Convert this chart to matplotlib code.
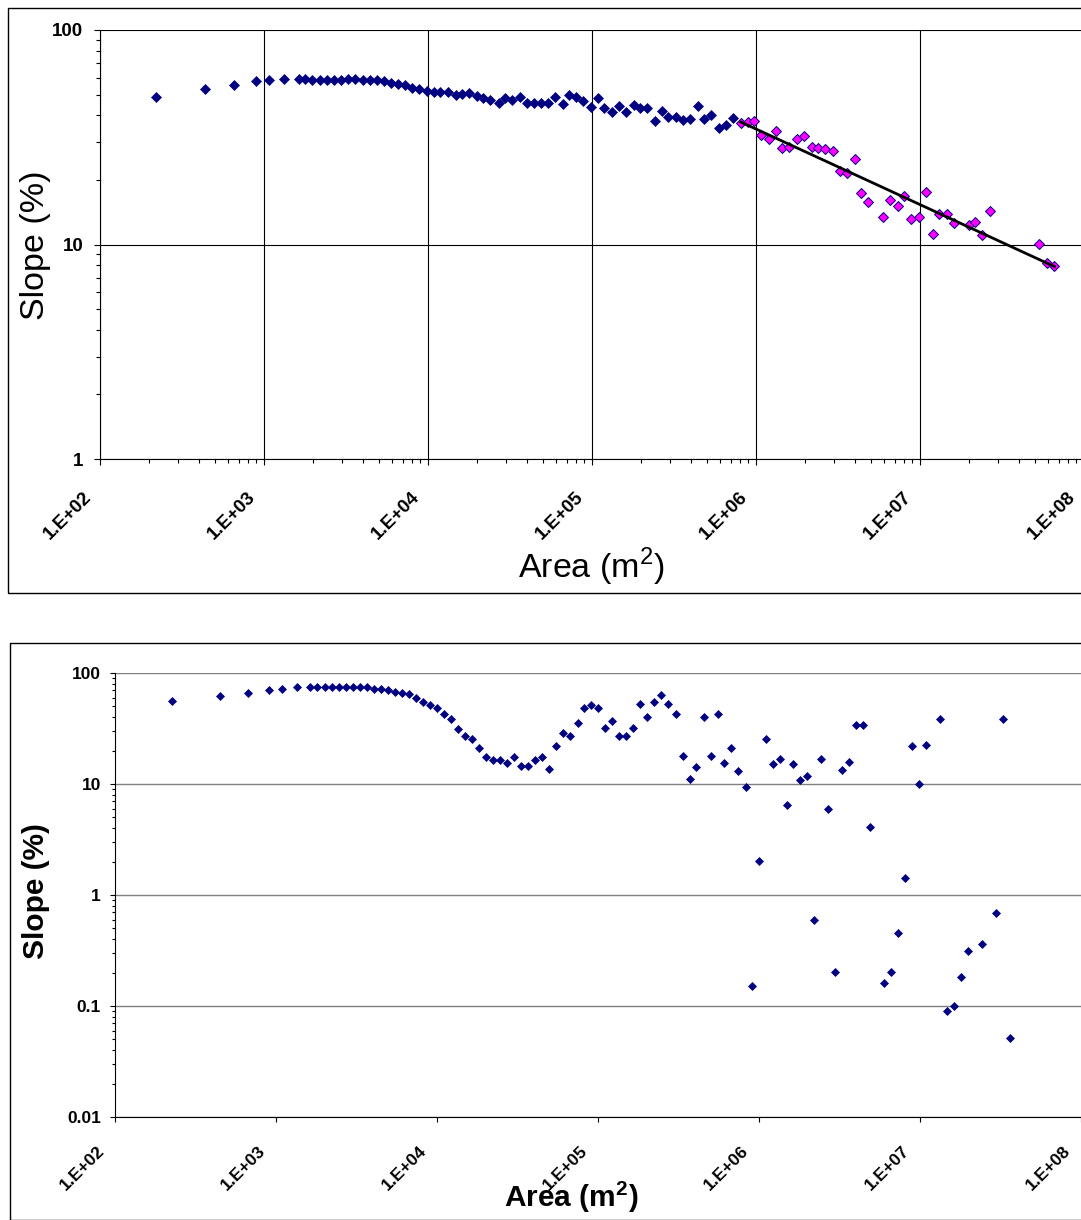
import numpy as np
import matplotlib.pyplot as plt
from matplotlib.ticker import FuncFormatter, LogLocator, NullFormatter
from matplotlib.patches import Rectangle
from matplotlib.transforms import ScaledTranslation

plt.rcParams['font.family'] = ['Liberation Sans', 'DejaVu Sans']
plt.rcParams['mathtext.fontset'] = 'custom'
plt.rcParams['mathtext.rm'] = 'Liberation Sans'
plt.rcParams['mathtext.bf'] = 'Liberation Sans:bold'

# top chart: blue series
top_area = [219, 437, 659, 894, 1077, 1319, 1628, 1786, 1970, 2196,
            2432, 2673, 2960, 3266, 3603, 4015, 4412, 4866, 5414, 5949,
            6563, 7209, 8025, 8851, 9822, 10834, 11886, 13190, 14756, 16125,
            17783, 19815, 21737, 23985, 26987, 29600, 32530, 36240, 39980, 44110,
            48870, 53920, 59490, 66270, 72700, 79880, 88120, 98600, 108800, 118900,
            133000, 146700, 161200, 179400, 197000, 217400, 243200, 266900, 291900, 326600,
            358400, 395900, 441000, 484000, 533300, 594800, 653600, 720000]
top_slope = [48.6, 52.9, 55.2, 57.8, 58.5, 59.3, 59.3, 59.3, 58.3, 58.5,
             58.5, 58.5, 58.5, 59.3, 59.3, 58.5, 58.5, 58.5, 57.6, 56.8,
             56.0, 55.2, 53.5, 52.9, 52.1, 51.4, 51.4, 51.4, 49.9, 50.1,
             50.7, 49.2, 48.0, 47.2, 45.8, 48.0, 47.2, 48.9, 45.8, 45.8,
             45.8, 45.8, 48.9, 45.2, 49.6, 48.9, 46.5, 43.9, 48.2, 43.3,
             41.5, 44.2, 41.5, 44.7, 43.3, 43.3, 37.5, 42.1, 39.2, 39.4,
             38.1, 38.6, 44.2, 38.6, 40.2, 34.8, 35.9, 38.8]

# top chart: magenta series (fitted with power trendline)
fit_area = [807000, 889000, 976000, 1068000, 1200000, 1324000, 1447000, 1596000, 1771000, 1954000,
            2186000, 2399000, 2646000, 2960000, 3253000, 3573000, 3999000, 4387000, 4836000, 5948000,
            6535000, 7301000, 8010000, 8811000, 9860000, 10880000, 11950000, 13060000, 14670000, 16120000,
            19810000, 21740000, 23870000, 26840000, 53390000, 59240000, 65920000]
fit_slope = [37.0, 37.3, 37.7, 32.5, 31.0, 33.9, 28.1, 28.5, 31.1, 32.2,
             28.6, 28.1, 27.8, 27.4, 22.0, 21.5, 25.0, 17.3, 15.7, 13.4,
             16.1, 15.1, 16.8, 13.1, 13.4, 17.6, 11.2, 13.8, 13.8, 12.6,
             12.3, 12.8, 11.1, 14.4, 10.1, 8.2, 7.9]

# bottom chart
bottom_area = [226, 449, 670, 905, 1094, 1345, 1627, 1805, 2006, 2227,
               2451, 2721, 2995, 3324, 3675, 4062, 4490, 4963, 5484, 6061,
               6700, 7405, 8151, 9050, 9957, 11050, 12270, 13560, 14920, 16500,
               18230, 20240, 22270, 24620, 27330, 30210, 33240, 36900, 40790, 45090,
               49840, 54830, 60870, 67300, 74800, 81500, 90900, 100400, 111000, 122700,
               135600, 149900, 165700, 183100, 202400, 223700, 247300, 273300, 303800, 335900,
               371300, 407900, 453500, 501200, 556300, 608600, 674800, 745800, 824500, 908600,
               1004000, 1110000, 1227000, 1356000, 1499000, 1627000, 1797000, 1987000, 2196000, 2427000,
               2683000, 2965000, 3277000, 3622000, 3986000, 4426000, 4892000, 5975000, 6604000, 7301000,
               8069000, 8918000, 9858000, 10940000, 13310000, 14770000, 16330000, 18050000, 19870000, 24380000,
               29650000, 32780000, 36380000]
bottom_slope = [55.9, 62.4, 66.5, 70.3, 72.2, 74.8, 74.8, 74.8, 74.8, 74.8,
                74.8, 74.8, 74.8, 74.8, 74.8, 72.2, 72.2, 69.9, 67.8, 66.5,
                64.3, 59.2, 55.1, 51.2, 48.1, 43.0, 38.3, 31.3, 26.9, 25.4,
                21.2, 17.4, 16.5, 16.5, 15.5, 17.4, 14.5, 14.5, 16.5, 17.4,
                13.7, 21.9, 28.6, 26.9, 35.2, 48.1, 51.5, 48.1, 31.9, 37.2,
                26.9, 26.9, 31.9, 52.9, 40.4, 54.5, 63.0, 52.9, 42.7, 17.9,
                11.0, 14.2, 40.4, 17.9, 43.0, 15.6, 21.3, 13.1, 9.46, 0.151,
                2.02, 25.4, 15.0, 16.9, 6.47, 15.0, 10.9, 11.9, 0.595, 16.9,
                5.95, 0.202, 13.4, 15.9, 34.0, 34.0, 4.07, 0.160, 0.202, 0.457,
                1.42, 22.0, 10.0, 22.6, 38.3, 0.0896, 0.1006, 0.181, 0.315, 0.362,
                0.688, 38.3, 0.0515]

x_ticks = [1e2, 1e3, 1e4, 1e5, 1e6, 1e7, 1e8]
navy = '#000080'

W, H = 1081, 1220
fig = plt.figure(figsize=(W / 100, H / 100), dpi=100)


def fx(px):
    return px / W


def fy(py):
    return 1 - py / H


exp_fmt = FuncFormatter(lambda v, p: f"1.E+{int(round(np.log10(v))):02d}")


def style_xlabels(ax, shift_px):
    # rotated, bold, nudged left like the spreadsheet labels
    off = ScaledTranslation(-shift_px / 100, 0, fig.dpi_scale_trans)
    for lbl in ax.get_xticklabels():
        lbl.set_rotation(45)
        lbl.set_ha('right')
        lbl.set_fontweight('bold')
        lbl.set_transform(lbl.get_transform() + off)
    for lbl in ax.get_yticklabels():
        lbl.set_fontweight('bold')


# ---------- top chart ----------
ax1 = fig.add_axes([fx(100), fy(459), (1084 - 100) / W, (459 - 30) / H])
ax1.set_xscale('log')
ax1.set_yscale('log')
ax1.set_xlim(1e2, 1e8)
ax1.set_ylim(1, 100)

ax1.plot(top_area, top_slope, ls='none', marker='D', ms=4.6, color=navy, mec=navy, mew=0.5, zorder=3)
ax1.plot(fit_area, fit_slope, ls='none', marker='D', ms=4.8, mfc='#FF00FF', mec=navy, mew=0.7, zorder=3)

coef = np.polyfit(np.log10(fit_area), np.log10(fit_slope), 1)
xs = np.array([min(fit_area), max(fit_area)])
ax1.plot(xs, 10 ** np.polyval(coef, np.log10(xs)), color='black', lw=2, zorder=4)

ax1.set_xticks(x_ticks)
ax1.xaxis.set_major_formatter(exp_fmt)
ax1.xaxis.set_minor_locator(LogLocator(base=10, subs=np.arange(2, 10)))
ax1.xaxis.set_minor_formatter(NullFormatter())
ax1.set_yticks([1, 10, 100])
ax1.set_yticklabels(['1', '10', '100'])
ax1.yaxis.set_minor_locator(LogLocator(base=10, subs=np.arange(2, 10)))
ax1.yaxis.set_minor_formatter(NullFormatter())
ax1.grid(True, which='major', color='black', lw=0.8)
ax1.tick_params(which='major', direction='out', length=4.5, width=0.8, labelsize=13.5)
ax1.tick_params(axis='x', which='major', pad=17)
ax1.tick_params(axis='y', which='major', pad=7.5)
ax1.tick_params(which='minor', direction='out', length=3, width=0.8)
style_xlabels(ax1, 5)
ax1.spines['top'].set_visible(False)
ax1.spines['right'].set_visible(False)
fig.text(fx(36), fy(245), 'Slope (%)', rotation=90, ha='center', va='center', fontsize=24.5)
fig.text(fx(591), fy(567), r'Area (m$^{\mathregular{2}}$)', ha='center', va='center', fontsize=24.5)

# ---------- bottom chart ----------
ax2 = fig.add_axes([fx(115), fy(1117), (1081 - 115) / W, (1117 - 673) / H])
ax2.set_xscale('log')
ax2.set_yscale('log')
ax2.set_xlim(1e2, 1e8)
ax2.set_ylim(0.01, 100)

ax2.plot(bottom_area, bottom_slope, ls='none', marker='D', ms=4.2, color=navy, mec=navy, mew=0.5, zorder=3)

ax2.set_xticks(x_ticks)
ax2.xaxis.set_major_formatter(exp_fmt)
ax2.xaxis.set_minor_locator(plt.NullLocator())
ax2.set_yticks([0.01, 0.1, 1, 10, 100])
ax2.set_yticklabels(['0.01', '0.1', '1', '10', '100'])
ax2.yaxis.set_minor_locator(LogLocator(base=10, subs=np.arange(2, 10)))
ax2.yaxis.set_minor_formatter(NullFormatter())
ax2.yaxis.grid(True, which='major', color='#808080', lw=1)
ax2.tick_params(which='major', direction='out', length=3.5, width=0.8, labelsize=12.5)
ax2.tick_params(axis='x', which='major', pad=15)
ax2.tick_params(axis='y', which='major', pad=6.5)
ax2.tick_params(which='minor', direction='out', length=2.5, width=0.8)
style_xlabels(ax2, 8)
ax2.spines['top'].set_visible(False)
ax2.spines['right'].set_visible(False)
fig.text(fx(36), fy(891), 'Slope (%)', rotation=90, ha='center', va='center', fontsize=21.5, fontweight='bold')
fig.text(fx(571), fy(1197), r'Area (m$^{\mathbf{2}}$)', ha='center', va='center', fontsize=21.5, fontweight='bold')

# chart frames
fig.patches.append(Rectangle((fx(8), fy(593)), 1.0, (593 - 8) / H, transform=fig.transFigure,
                             fill=False, ec='black', lw=1))
fig.patches.append(Rectangle((fx(10), fy(1219.5)), 1.0, (1219.5 - 643) / H, transform=fig.transFigure,
                             fill=False, ec='black', lw=1))

fig.savefig('out.png', dpi=100)
